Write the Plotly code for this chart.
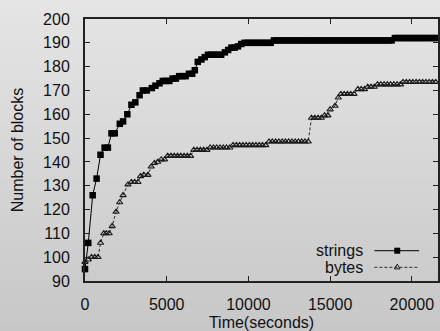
import plotly.graph_objects as go

# ---------------- data ----------------
strings_t = [
    0, 200, 470, 710, 950, 1200, 1400, 1620, 1820, 2130,
    2330, 2590, 2840, 3080, 3340, 3540, 3780, 4090, 4310, 4560,
    4760, 4960, 5160, 5360, 5560, 5760, 5960, 6160, 6360, 6560,
    6720, 6900, 7120, 7330, 7530, 7730, 7930, 8130, 8330, 8560,
    8760, 8960, 9160, 9360, 9560, 9760, 9960, 10160, 10360, 10560,
    10760, 10960, 11160, 11360, 11560, 11760, 11960, 12160, 12360, 12560,
    12760, 12960, 13160, 13360, 13560, 13760, 13960, 14160, 14360, 14560,
    14760, 14960, 15160, 15360, 15560, 15760, 15960, 16160, 16360, 16560,
    16760, 16960, 17160, 17360, 17560, 17760, 17960, 18160, 18360, 18560,
    18760, 18960, 19160, 19360, 19560, 19760, 19960, 20160, 20360, 20560,
    20760, 20960, 21160, 21360, 21560,
]
strings_v = [
    95, 106, 126, 133, 143, 146, 146, 152, 152, 156,
    157, 160, 164, 165, 168, 170, 170, 171, 172, 173,
    174, 174, 174, 175, 175, 176, 176, 176, 177, 177,
    178.5, 182, 183, 184, 185, 185, 185, 185, 185, 186,
    187, 188, 188, 188.5, 189.5, 190, 190, 190, 190, 190,
    190, 190, 190, 190, 191, 191, 191, 191, 191, 191,
    191, 191, 191, 191, 191, 191, 191, 191, 191, 191,
    191, 191, 191, 191, 191, 191, 191, 191, 191, 191,
    191, 191, 191, 191, 191, 191, 191, 191, 191, 191,
    191, 192, 192, 192, 192, 192, 192, 192, 192, 192,
    192, 192, 192, 192, 192,
]
bytes_t = [
    0, 200, 400, 600, 800, 950, 1150, 1300, 1480, 1660,
    1900, 2120, 2330, 2630, 2840, 3040, 3240, 3400, 3600, 3850,
    4050, 4250, 4450, 4660, 4860, 5060, 5260, 5460, 5660, 5860,
    6060, 6260, 6460, 6660, 6860, 7060, 7260, 7460, 7660, 7860,
    8060, 8260, 8460, 8660, 8860, 9060, 9260, 9460, 9660, 9860,
    10060, 10260, 10460, 10660, 10860, 11060, 11260, 11460, 11660, 11860,
    12060, 12260, 12460, 12660, 12860, 13060, 13260, 13460, 13660, 13860,
    14060, 14260, 14460, 14660, 14860, 15000, 15300, 15500, 15660, 15860,
    16060, 16260, 16460, 16700, 16900, 17100, 17300, 17500, 17700, 17900,
    18100, 18300, 18500, 18700, 18900, 19100, 19300, 19460, 19660, 19860,
    20060, 20260, 20460, 20660, 20860, 21060, 21260, 21460, 21660,
]
bytes_v = [
    98, 99, 100, 100, 100, 106, 110, 110, 110, 113,
    119, 123, 126, 130.5, 131.5, 131.5, 131.5, 134, 134.5, 134.5,
    138, 139.5, 140, 141, 141, 142.5, 142.5, 142.5, 142.5, 142.5,
    142.5, 142.5, 142.5, 145, 145, 145, 145, 145, 146, 146,
    146, 146, 146, 146, 146, 147, 147, 147, 147, 147,
    147, 147, 147, 147, 147, 147, 148.5, 148.5, 148.5, 148.5,
    148.5, 148.5, 148.5, 148.5, 148.5, 148.5, 148.5, 148.5, 148.5, 158.5,
    158.5, 158.5, 158.5, 159.5, 159.5, 162, 163.5, 167, 168.5, 168.5,
    168.5, 168.5, 168.5, 170.5, 170.5, 170.5, 171.5, 171.5, 171.5, 172.5,
    172.5, 172.5, 172.5, 172.5, 172.5, 172.5, 172.5, 173.5, 173.5, 173.5,
    173.5, 173.5, 173.5, 173.5, 173.5, 173.5, 173.5, 173.5, 173.5,
]
x_tickvals = [0, 5000, 10000, 15000, 20000]
x_ticktext = ["0", "5000", "10000", "15000", "20000"]
y_tickvals = [90, 100, 110, 120, 130, 140, 150, 160, 170, 180, 190, 200]
series_names = ["strings", "bytes"]
x_title = "Time(seconds)"
y_title = "Number of blocks"

# ---------------- layout geometry / style ----------------
W, H = 440, 331
ML, MR, MT, MB = 85, 0, 19, 50
PW, PH = W - ML - MR, H - MT - MB
FONT = "Liberation Sans, Arial, Helvetica, sans-serif"
INK = "#111111"


def px_x(px):
    return (px - ML) / PW


def px_y(py):
    return (H - MB - py) / PH


fig = go.Figure()
fig.add_trace(go.Scatter(
    x=strings_t, y=strings_v, name=series_names[0], mode="lines+markers",
    line=dict(color="#000000", width=1),
    marker=dict(symbol="square", size=6.5, color="#000000", line=dict(width=0)),
    cliponaxis=False, showlegend=False,
))
fig.add_trace(go.Scatter(
    x=bytes_t, y=bytes_v, name=series_names[1], mode="lines+markers",
    line=dict(color="#2a2a2a", width=1, dash="3px,2px"),
    marker=dict(symbol="triangle-up-open", size=5.5, color="#1a1a1a",
                line=dict(width=1.1, color="#1a1a1a")),
    cliponaxis=False, showlegend=False,
))

# vertical grey gradient background
shapes = []
n = 48
for i in range(n):
    y0 = i * H / n
    y1 = (i + 1) * H / n + 0.6
    c = round(229 - (229 - 199) * (i + 0.5) / n)
    shapes.append(dict(
        type="rect", xref="paper", yref="paper", layer="below",
        x0=px_x(-2), x1=px_x(W + 2), y0=px_y(y1), y1=px_y(y0),
        fillcolor=f"rgb({c},{c},{c})", line=dict(width=0),
    ))

# custom gnuplot-style key (text left, sample right)
key_x0, key_x1, key_xm = px_x(376), px_x(421), px_x(399)
key_rows = [px_y(250.7), px_y(267.3)]
shapes.append(dict(type="line", xref="paper", yref="paper", layer="above",
                   x0=key_x0, x1=key_x1, y0=key_rows[0], y1=key_rows[0],
                   line=dict(color="#000000", width=1)))
shapes.append(dict(type="line", xref="paper", yref="paper", layer="above",
                   x0=key_x0, x1=key_x1, y0=key_rows[1], y1=key_rows[1],
                   line=dict(color="#2a2a2a", width=1, dash="3px,2px")))
sq = 3.0
shapes.append(dict(type="rect", xref="paper", yref="paper", layer="above",
                   x0=key_xm - sq / PW, x1=key_xm + sq / PW,
                   y0=key_rows[0] - sq / PH, y1=key_rows[0] + sq / PH,
                   fillcolor="#000000", line=dict(width=0)))
tr = 2.8
tri_path = (f"M {key_xm - tr / PW},{key_rows[1] - 1.6 / PH} "
            f"L {key_xm + tr / PW},{key_rows[1] - 1.6 / PH} "
            f"L {key_xm},{key_rows[1] + 3.2 / PH} Z")
shapes.append(dict(type="path", xref="paper", yref="paper", layer="above",
                   path=tri_path, fillcolor="rgba(0,0,0,0)",
                   line=dict(color="#1a1a1a", width=1)))

annotations = []
for name, yk in zip(series_names, key_rows):
    annotations.append(dict(
        text=name, xref="paper", yref="paper", x=px_x(367), y=yk,
        xanchor="right", yanchor="middle", showarrow=False,
        font=dict(family=FONT, size=16, color=INK),
    ))

axis_common = dict(
    showline=True, linecolor="#222222", linewidth=2, mirror="ticks",
    ticks="inside", ticklen=5, tickwidth=1, tickcolor="#222222",
    showgrid=False, zeroline=False,
    tickfont=dict(family=FONT, size=16, color=INK),
    title_font=dict(family=FONT, size=16, color=INK),
)

fig.update_layout(
    width=W, height=H,
    margin=dict(l=ML, r=MR, t=MT, b=MB, pad=0),
    paper_bgcolor="rgb(214,214,214)",
    plot_bgcolor="rgba(0,0,0,0)",
    shapes=shapes, annotations=annotations,
    showlegend=False,
    font=dict(family=FONT, size=16, color=INK),
    xaxis=dict(range=[0, 21600], tickvals=x_tickvals, ticktext=x_ticktext,
               ticklabelstandoff=8,
               title=dict(text=x_title, standoff=6), **axis_common),
    yaxis=dict(range=[90, 200], tickvals=y_tickvals,
               ticklabelstandoff=10,
               title=dict(text=y_title, standoff=15), **axis_common),
)

fig.write_html(
    "out.html",
    config={"displayModeBar": False},
    post_script="document.body.style.margin='0';document.body.style.padding='0';",
)
